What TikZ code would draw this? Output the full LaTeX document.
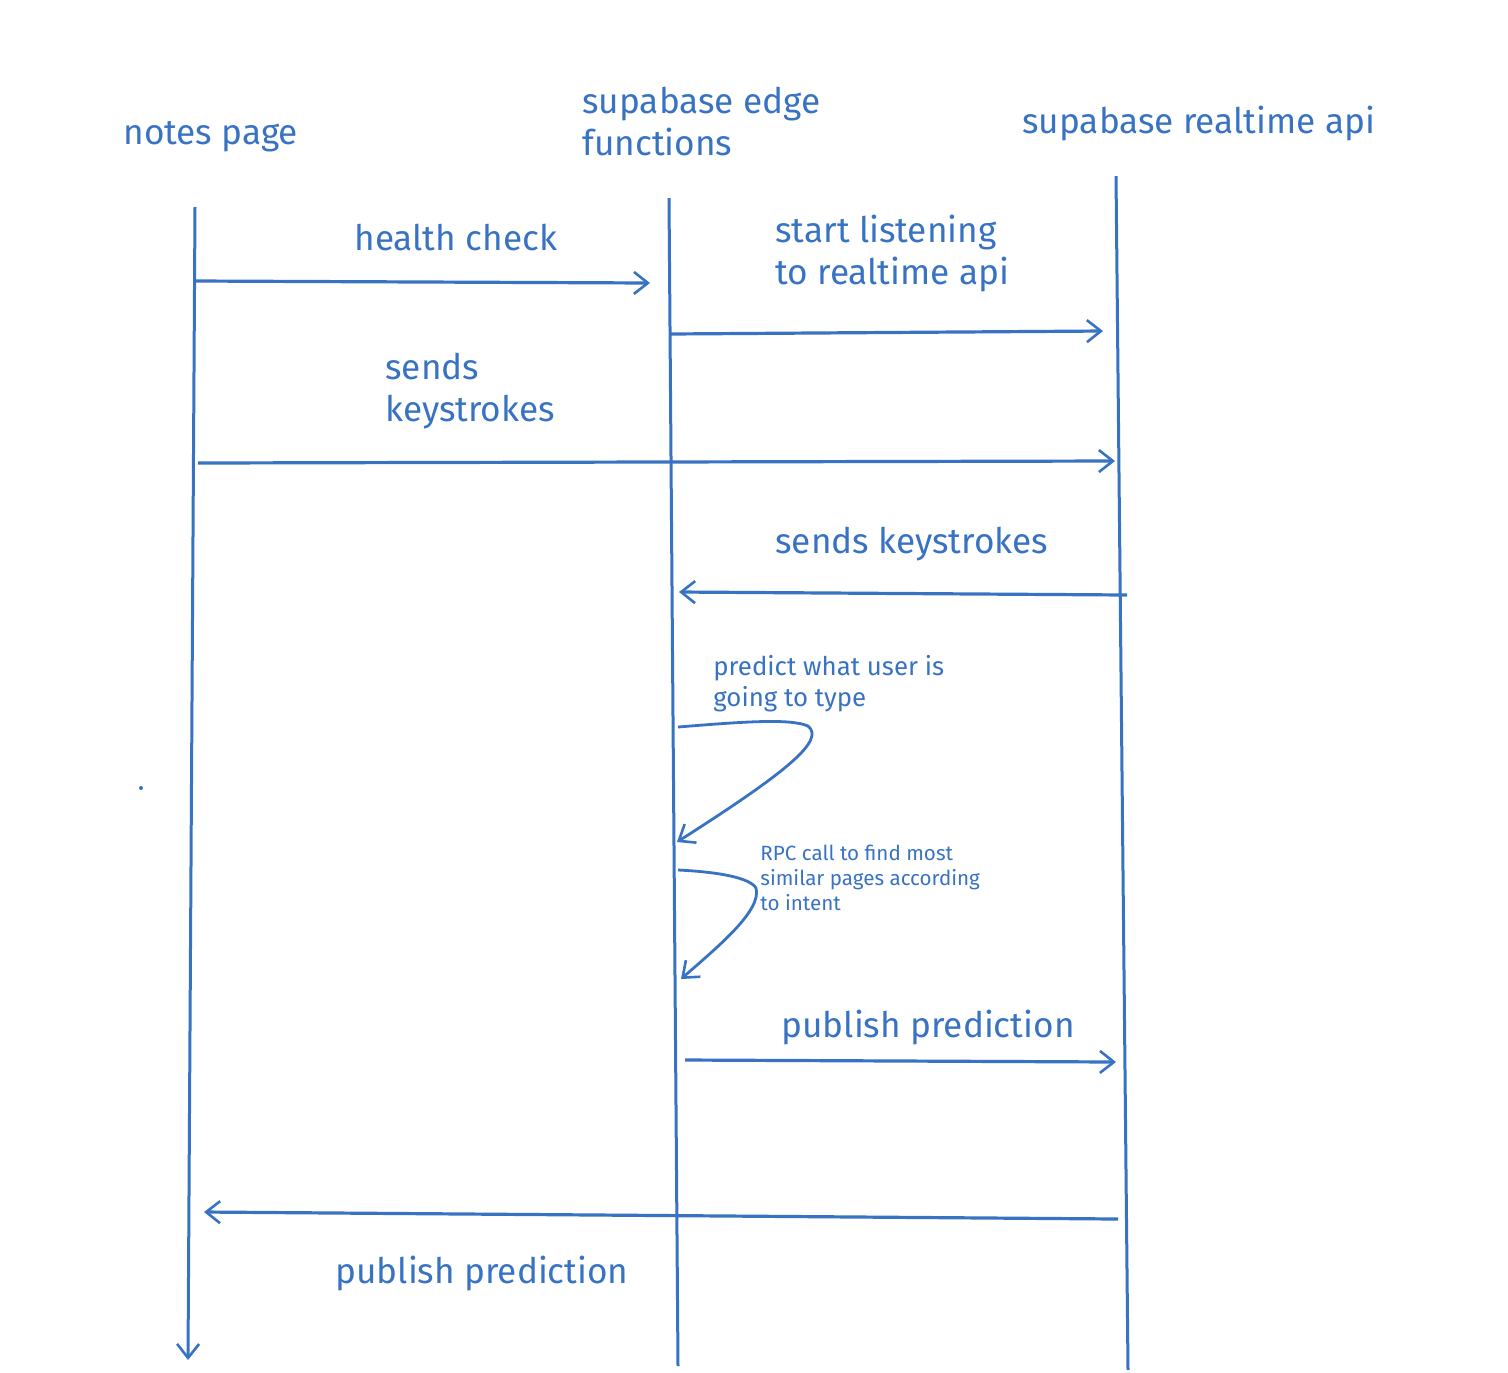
\documentclass[tikz,border=0pt]{standalone}
\usepackage{fontspec}
\setmainfont{Fira Sans}
\usetikzlibrary{arrows.meta}
\definecolor{ink}{RGB}{56,114,194}
\tikzset{
  life/.style={draw=ink, line width=1.5pt},
  msg/.style={draw=ink, line width=1.6pt, -{Straight Barb[length=7pt,width=11pt,line width=1.3pt]}},
  loopar/.style={draw=ink, line width=1.4pt, -{Straight Barb[length=7pt,width=11pt,line width=1.3pt]}},
  big/.style={text=ink, inner sep=0pt, anchor=west, align=left, font=\fontsize{17.6}{21}\selectfont},
  mid/.style={text=ink, inner sep=0pt, anchor=west, align=left, font=\fontsize{12.9}{15.5}\selectfont},
  small/.style={text=ink, inner sep=0pt, anchor=west, align=left, font=\fontsize{10.3}{12.5}\selectfont},
}
\begin{document}
\begin{tikzpicture}[x=0.5pt, y=-0.5pt]
\useasboundingbox (0,0) rectangle (1508,1372);
% headers
\node[big] (hA) at (123,137) {notes page};
\node[big] (hB) at (582,122) {supabase edge\\functions};
\node[big] (hC) at (1022,124) {supabase realtime api};
% lifeline end points
\coordinate (a0) at (195,207); \coordinate (a1) at (188,1360);
\coordinate (b0) at (669,198); \coordinate (b1) at (678,1366);
\coordinate (c0) at (1116,176); \coordinate (c1) at (1128,1370);
\draw[life] (b0) -- (b1);
\draw[life] (c0) -- (c1);
\draw[life, -{Straight Barb[length=7pt,width=11pt,line width=1.3pt]}] (a0) -- (a1);
% messages
\coordinate (m1s) at (196,281); \coordinate (m1e) at (650,283);
\draw[msg] (m1s) -- (m1e);
\node[big] (l1) at (354,238) {health check};
\coordinate (m2s) at (670,334); \coordinate (m2e) at (1103,331);
\draw[msg] (m2s) -- (m2e);
\node[big] (l2) at (775,254) {start listening\\to realtime api};
\coordinate (m3s) at (198,463); \coordinate (m3e) at (1115,461);
\draw[msg] (m3s) -- (m3e);
\node[big] (l3) at (385,391) {sends\\keystrokes};
\coordinate (m4s) at (1127,595); \coordinate (m4e) at (679,592);
\draw[msg] (m4s) -- (m4e);
\node[big] (l4) at (775,544) {sends keystrokes};
% self loops
\coordinate (s1s) at (678,727); \coordinate (s1e) at (677,842);
\draw[loopar] (s1s) .. controls (740,722) and (790,718) .. (808,726)
  .. controls (825,740) and (790,770) .. (s1e);
\node[mid] (l5) at (713,684) {predict what user is\\going to type};
\coordinate (s2s) at (678,870); \coordinate (s2e) at (681,979);
\draw[loopar] (s2s) .. controls (720,872) and (750,878) .. (756,888)
  .. controls (762,910) and (720,945) .. (s2e);
\node[small] (l6) at (760,878) {RPC call to find most\\similar pages according\\to intent};
\coordinate (m7s) at (685,1060); \coordinate (m7e) at (1116,1062);
\draw[msg] (m7s) -- (m7e);
\node[big] (l7) at (781,1027) {publish prediction};
\coordinate (m8s) at (1118,1219); \coordinate (m8e) at (204,1212);
\draw[msg] (m8s) -- (m8e);
\node[big] (l8) at (335,1273) {publish prediction};
% stray dot
\fill[ink] (141,788) circle (1pt);
\end{tikzpicture}
\end{document}
